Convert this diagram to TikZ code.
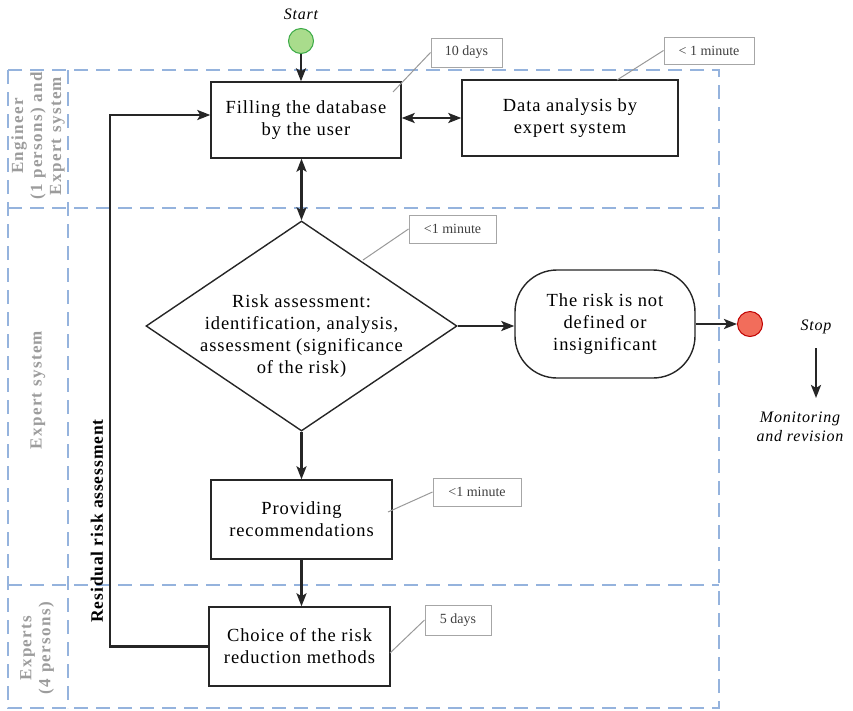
\documentclass[tikz,border=0pt]{standalone}
\usepackage{fontspec}
\setmainfont{Liberation Serif}
\newfontfamily\mainf[LetterSpace=5]{Liberation Serif}
\newfontfamily\lanef[LetterSpace=8]{Liberation Serif}
\usetikzlibrary{arrows.meta,shapes.geometric,calc}
\definecolor{lanecol}{HTML}{95B3DD}
\definecolor{lanegray}{HTML}{9C9C9C}
\definecolor{startf}{HTML}{A9DC8C}
\definecolor{startb}{HTML}{3BAA47}
\definecolor{stopf}{HTML}{F26D5B}
\definecolor{stopb}{HTML}{C00000}
\begin{document}
\begin{tikzpicture}[x=1pt,y=-1pt,
  box/.style={draw=black!85, line width=1.4pt, fill=white, align=center,
    font=\mainf\fontsize{18.5}{22}\selectfont, inner sep=0pt},
  arr/.style={line width=2.5pt, draw=black!85, -{Stealth[length=13pt,width=10pt,inset=3pt]}},
  darr/.style={line width=2.5pt, draw=black!85, {Stealth[length=13pt,width=10pt,inset=3pt]}-{Stealth[length=13pt,width=10pt,inset=3pt]}},
  lane/.style={draw=lanecol, line width=1.8pt, dash pattern=on 14pt off 8pt},
  call/.style={draw=gray!70, line width=1pt, fill=white, text=black!75,
    font=\fontsize{14}{16}\selectfont, inner sep=0pt},
  callline/.style={draw=gray!80, line width=1pt},
  lanetext/.style={text=lanegray, font=\lanef\bfseries\fontsize{17}{19}\selectfont,
    align=center, rotate=90},
  ital/.style={font=\mainf\itshape\fontsize{16}{19}\selectfont, align=center}
]
\useasboundingbox (0,0) rectangle (853,710);

% lanes
\draw[lane] (8,70) rectangle (719,708);
\draw[lane] (68,70) -- (68,708);
\draw[lane] (8,208) -- (719,208);
\draw[lane] (8,585) -- (719,585);

\node[lanetext] (l1) at (38,136) {Engineer\\ (1 persons) and\\ Expert system};
\node[lanetext] (l2) at (38,390) {Expert system};
\node[lanetext] (l3) at (37,648) {Experts\\ (4 persons)};

% start
\node[ital] (starttxt) at (301,14) {Start};
\node[circle, draw=startb, fill=startf, line width=1pt, minimum size=25pt, inner sep=0pt] (start) at (301,41) {};

% boxes
\node[box, minimum width=190pt, minimum height=76pt] (b1) at (306,120) {Filling the database\\ by the user};
\node[box, minimum width=216pt, minimum height=76pt] (b2) at (570,118) {Data analysis by\\ expert system};
\node[diamond, draw=black!85, line width=1.4pt, minimum width=311pt, minimum height=210pt, inner sep=0pt] (dia) at (301.5,326) {};
\node[align=center, font=\mainf\fontsize{18.5}{21.7}\selectfont] (diatext) at (301.5,336) {Risk assessment:\\ identification, analysis,\\ assessment (significance\\ of the risk)};
\node[box, rounded corners=42pt, minimum width=180pt, minimum height=108pt] (rb) at (605,324) {The risk is not\\ defined or\\ insignificant};
\node[box, minimum width=181pt, minimum height=79pt] (b3) at (301.5,519.5) {Providing\\ recommendations};
\node[box, minimum width=181pt, minimum height=79pt] (b4) at (299.5,646.5) {Choice of the risk\\ reduction methods};

% stop
\node[circle, draw=stopb, fill=stopf, line width=1pt, minimum size=25pt, inner sep=0pt] (stopc) at (750,324) {};
\node[ital] (stoptxt) at (816,327) {Stop};
\node[ital] (mon) at (800,427) {Monitoring\\ and revision};
\coordinate (sa) at (816,348);
\coordinate (sb) at (816,398);

% residual label
\node[rotate=90, font=\mainf\bfseries\fontsize{17.5}{20}\selectfont] (res) at (97,521) {Residual risk assessment};

% connectors
\draw[arr] (start) -- (start |- b1.north);
\draw[darr] (b1.east |- b2.west) -- (b2.west);
\draw[darr] (dia.north |- b1.south) -- (dia.north);
\draw[arr] (dia.east) -- (dia.east -| rb.west);
\draw[arr] (rb.east) -- (stopc.west);
\draw[arr] (dia.south) -- (dia.south |- b3.north);
\draw[arr] (b3.south) -- (b3.south |- b4.north);
\draw[arr] (sa) -- (sb);
\coordinate (lc) at (110,115);
\draw[arr] (b4.west) -| (lc) -- (lc -| b1.west);

% callouts
\node[call, minimum width=71pt, minimum height=29pt] (c1) at (466.5,52.5) {10 days};
\node[call, minimum width=90pt, minimum height=27pt] (c2) at (709,50.5) {< 1 minute};
\node[call, minimum width=87pt, minimum height=28pt] (c3) at (452.5,229) {<1 minute};
\node[call, minimum width=88pt, minimum height=28pt] (c4) at (477,492) {<1 minute};
\node[call, minimum width=66pt, minimum height=30pt] (c5) at (458,620) {5 days};
\coordinate (p1) at (393,92);
\coordinate (p2) at (617,80);
\coordinate (p3) at (363,260);
\coordinate (p4) at (388,512);
\coordinate (p5) at (390,653);
\draw[callline] (p1) -- (c1.west);
\draw[callline] (p2) -- (c2.west);
\draw[callline] (p3) -- (c3.west);
\draw[callline] (p4) -- (c4.west);
\draw[callline] (p5) -- (c5.west);
\end{tikzpicture}
\end{document}
